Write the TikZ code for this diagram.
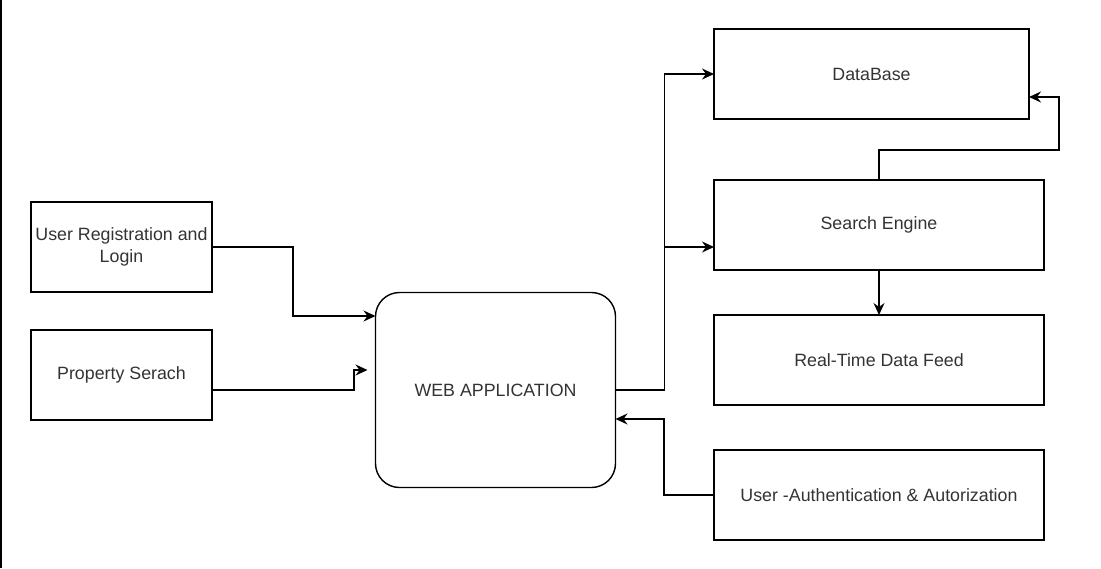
\documentclass[tikz,border=0pt]{standalone}
\usepackage{fontspec}
\setmainfont{Liberation Sans}
\usepackage{tikz}
\usetikzlibrary{positioning,arrows.meta}

\begin{document}
\begin{tikzpicture}[node distance=45pt, line width=1.4pt, >={Stealth[length=12pt,width=11pt,inset=4pt]}]
    \tikzstyle{blk}=[rectangle,draw,outer sep=0,inner sep=3pt,minimum height=90pt,align=center,text=black!80,font=\fontsize{17.8}{21.5}\selectfont]
    \tikzstyle{app}=[blk,rounded corners=24pt,minimum width=240pt,minimum height=195pt]
    \useasboundingbox (0,0) rectangle (1101pt,-568pt);
    \draw[line width=2pt] (1pt,0) -- (1pt,-568pt);
    \node[blk,minimum width=181pt] (Reg) at (121.5pt,-247pt) {User Registration and\\Login} ;
    \node[blk,minimum width=181pt] (Srch) [below =38pt of Reg] {Property Serach} ;
    \node[app] (Web) at (495.5pt,-390pt) {WEB APPLICATION} ;
    \node[blk,minimum width=315pt] (DB) at (871.5pt,-74pt) {DataBase} ;
    \node[blk,minimum width=330pt,anchor=north west] (SE) [below right =61pt and 0pt of DB.south west] {Search Engine} ;
    \node[blk,minimum width=330pt] (RT) [below =of SE] {Real-Time Data Feed} ;
    \node[blk,minimum width=330pt] (Auth) [below =of RT] {User -Authentication \& Autorization} ;
    \coordinate (pend) at ([xshift=-8pt,yshift=20pt]Web.west) ;
    \draw[->] (Reg.east) -- ++(81pt,0) |- ([yshift=74pt]Web.west) ;
    \draw[->] ([yshift=-15pt]Srch.east) -| ++(142pt,20pt) -- (pend) ;
    \draw[->] (Web.east) -- ++(49pt,0) |- (DB.west) ;
    \draw[->] (Web.east) -- ++(49pt,0) |- ([yshift=-22pt]SE.west) ;
    \draw[->] (SE.north) -- ++(0,30pt) -| ++(180pt,53pt) -- ([yshift=-23pt]DB.east) ;
    \draw[->] (SE) -- (RT) ;
    \draw[->] (Auth.west) -- ++(-50pt,0) |- ([yshift=-29pt]Web.east) ;
  \end{tikzpicture}
\end{document}
